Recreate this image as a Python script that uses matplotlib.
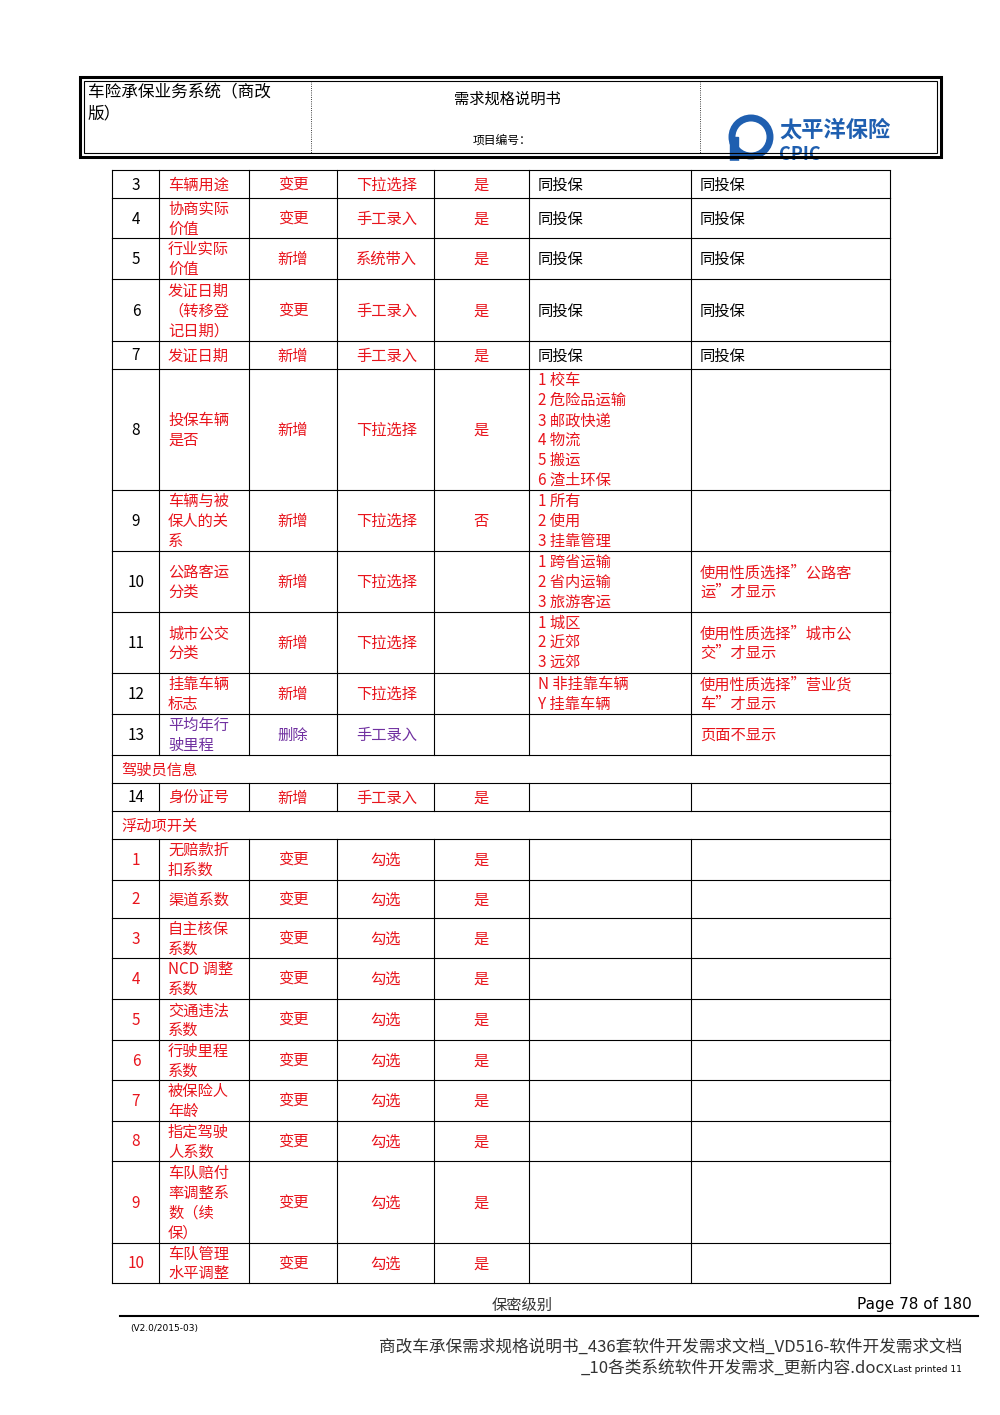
import matplotlib
matplotlib.use("Agg")
import matplotlib.pyplot as plt
from matplotlib.patches import Circle, Rectangle

plt.rcParams['font.family'] = ['Noto Sans CJK SC', 'DejaVu Sans']

RED = '#e8141c'
PUR = '#7030a0'
BLUE = '#1f5fb0'

col_edges = [112, 159, 249, 337, 434, 529, 691, 890]
row_edges = [170, 198, 238, 279, 341, 369, 490, 551, 612, 673, 714, 755, 783, 811, 839,
             880, 918, 958, 999, 1040, 1080, 1121, 1161, 1243, 1283]

nums = ['3', '4', '5', '6', '7', '8', '9', '10', '11', '12', '13', None, '14', None,
        '1', '2', '3', '4', '5', '6', '7', '8', '9', '10']
names = ['车辆用途', '协商实际\n价值', '行业实际\n价值', '发证日期\n（转移登\n记日期）', '发证日期',
         '投保车辆\n是否', '车辆与被\n保人的关\n系', '公路客运\n分类', '城市公交\n分类', '挂靠车辆\n标志',
         '平均年行\n驶里程', '驾驶员信息', '身份证号', '浮动项开关',
         '无赔款折\n扣系数', '渠道系数', '自主核保\n系数', 'NCD 调整\n系数', '交通违法\n系数',
         '行驶里程\n系数', '被保险人\n年龄', '指定驾驶\n人系数', '车队赔付\n率调整系\n数（续\n保）', '车队管理\n水平调整']
ops = ['变更', '变更', '新增', '变更', '新增', '新增', '新增', '新增', '新增', '新增', '删除', None, '新增', None] + ['变更'] * 10
inputs = ['下拉选择', '手工录入', '系统带入', '手工录入', '手工录入', '下拉选择', '下拉选择', '下拉选择',
          '下拉选择', '下拉选择', '手工录入', None, '手工录入', None] + ['勾选'] * 10
required = ['是', '是', '是', '是', '是', '是', '否', '', '', '', '', None, '是', None] + ['是'] * 10
col6 = ['同投保'] * 5 + ['1 校车\n2 危险品运输\n3 邮政快递\n4 物流\n5 搬运\n6 渣土环保',
        '1 所有\n2 使用\n3 挂靠管理', '1 跨省运输\n2 省内运输\n3 旅游客运', '1 城区\n2 近郊\n3 远郊',
        'N 非挂靠车辆\nY 挂靠车辆', '', None, '', None] + [''] * 10
col7 = ['同投保'] * 5 + ['', '', '使用性质选择”公路客\n运”才显示', '使用性质选择”城市公\n交”才显示',
        '使用性质选择”营业货\n车”才显示', '页面不显示', None, '', None] + [''] * 10

fig = plt.figure(figsize=(10, 14.15), dpi=100)
ax = fig.add_axes([0, 0, 1, 1])
ax.set_xlim(0, 1000)
ax.set_ylim(1415, 0)
ax.axis('off')

fs = 11
LS = 1.22
L = col_edges[0]; R = col_edges[-1]
ax.plot([L, R], [row_edges[0]] * 2, color='k', lw=0.8, zorder=6)
for i in range(len(nums)):
    y0, y1 = row_edges[i], row_edges[i + 1]
    yc = (y0 + y1) / 2 + 1
    ax.plot([L, R], [y1, y1], color='k', lw=0.8)
    if nums[i] is None:
        ax.plot([L, L], [y0, y1], color='k', lw=0.8)
        ax.plot([R, R], [y0, y1], color='k', lw=0.8)
        ax.text(121, yc, names[i], color=RED, fontsize=fs, va='center', ha='left')
        continue
    for x in col_edges:
        ax.plot([x, x], [y0, y1], color='k', lw=0.8)
    float_row = i >= 14
    purple = ops[i] == '删除'
    main = PUR if purple else RED
    ax.text(136, yc, nums[i], color=RED if float_row else 'k', fontsize=fs, ha='center', va='center')
    ax.text(168, yc, names[i], color=main, fontsize=fs, ha='left', va='center', linespacing=LS)
    ax.text(293, yc, ops[i], color=main, fontsize=fs, ha='center', va='center')
    if float_row:
        ax.text(386, yc, inputs[i], color=main, fontsize=fs, ha='center', va='center')
    else:
        ax.text(356, yc, inputs[i], color=main, fontsize=fs, ha='left', va='center')
    ax.text(481, yc, required[i], color=main, fontsize=fs, ha='center', va='center')
    c6 = 'k' if col6[i] == '同投保' else RED
    ax.text(538, yc, col6[i], color=c6, fontsize=fs, ha='left', va='center', linespacing=LS)
    c7 = 'k' if col7[i] == '同投保' else RED
    ax.text(700, yc, col7[i], color=c7, fontsize=fs, ha='left', va='center', linespacing=LS)

# header box
ax.add_patch(Rectangle((80, 77), 861, 80, fill=False, lw=2.2, ec='k', zorder=6))
ax.add_patch(Rectangle((84, 81), 853, 72, fill=False, lw=0.8, ec='k', zorder=6))
ax.plot([311, 311], [81, 153], color='k', lw=0.6, ls=':')
ax.plot([700, 700], [81, 153], color='k', lw=0.6, ls=':')
ax.text(88, 103, '车险承保业务系统（商改\n版）', fontsize=12, ha='left', va='center', linespacing=1.3)
ax.text(507, 99, '需求规格说明书', fontsize=11, ha='center', va='center')
ax.text(473, 140, '项目编号：', fontsize=8.5, ha='left', va='center')
# logo
ax.add_patch(Circle((751, 137), 19, fill=False, lw=5, ec=BLUE))
ax.add_patch(Rectangle((730, 137), 8, 25, color=BLUE))
ax.text(779, 130, '太平洋保险', fontsize=16, color=BLUE, fontweight='bold', ha='left', va='center')
ax.text(779, 154, 'CPIC', fontsize=13, color=BLUE, fontweight='bold', ha='left', va='center')
ax.add_patch(Rectangle((720, 161), 230, 8, color='white', zorder=5))

# footer
ax.plot([120, 978], [1316, 1316], color='k', lw=1.5)
ax.text(522, 1305, '保密级别', fontsize=11, ha='center', va='center', color='#333333')
ax.text(972, 1305, 'Page 78 of 180', fontsize=11, ha='right', va='center', family=['DejaVu Sans'])
ax.text(130, 1328, '(V2.0/2015-03)', fontsize=6.5, ha='left', va='center', family=['DejaVu Sans'])
ax.text(962, 1347, '商改车承保需求规格说明书_436套软件开发需求文档_VD516-软件开发需求文档', fontsize=12,
        ha='right', va='center', color='#333333')
ax.text(893, 1368, '_10各类系统软件开发需求_更新内容.docx', fontsize=12, ha='right', va='center', color='#333333')
ax.text(962, 1370, 'Last printed 11', fontsize=6.5, ha='right', va='center', family=['DejaVu Sans'])

fig.savefig('out.png', dpi=100)
